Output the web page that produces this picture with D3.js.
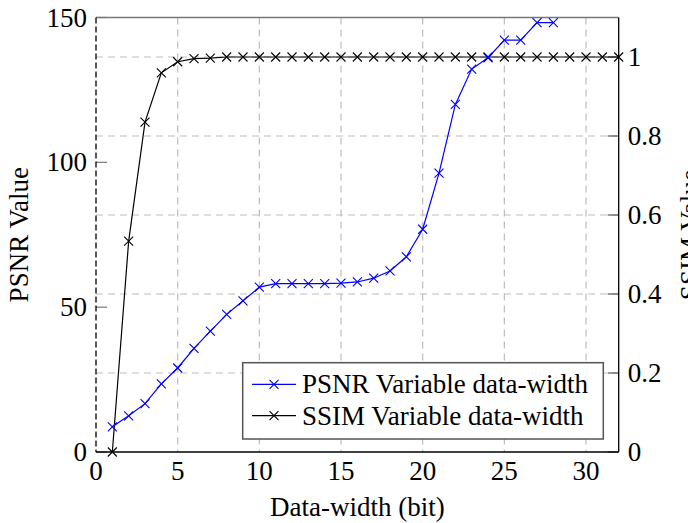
<!DOCTYPE html>
<html>
<head>
<meta charset="utf-8">
<script src="https://cdn.jsdelivr.net/npm/d3@7/dist/d3.min.js"></script>
<style>
  body { margin: 0; background: #fff; }
  svg text { font-family: "Liberation Serif", "DejaVu Serif", serif; fill: #000; }
</style>
</head>
<body>
<svg width="688" height="523"></svg>
<script>
// data-width in bits
var widthBits = d3.range(1, 33);
var psnrBits = d3.range(1, 29);
var psnrValues = [8.7, 12.5, 16.7, 23.5, 29.0, 35.8, 41.7, 47.5, 52.2, 56.9,
                  58.1, 58.1, 58.1, 58.1, 58.3, 58.7, 60.0, 62.5, 67.4, 76.9,
                  96.3, 120.0, 132.2, 136.1, 142.2, 142.2, 148.2, 148.2];
var ssimValues = [0, 0.534, 0.835, 0.960, 0.988, 0.996, 0.997, 1, 1, 1,
                  1, 1, 1, 1, 1, 1, 1, 1, 1, 1,
                  1, 1, 1, 1, 1, 1, 1, 1, 1, 1, 1, 1];
var xTicks = [0, 5, 10, 15, 20, 25, 30];
var psnrTicks = [0, 50, 100, 150];
var ssimTicks = [0, 0.2, 0.4, 0.6, 0.8, 1];
var legendLabels = ["PSNR Variable data-width", "SSIM Variable data-width"];

var svg = d3.select("svg"),
    plotLeft = 96, plotRight = 618.7, plotTop = 17.5, plotBottom = 452,
    fontSize = 27;

var x = d3.scaleLinear().domain([0, 32]).range([plotLeft, plotRight]);
var yPsnr = d3.scaleLinear().domain([0, 150]).range([plotBottom, plotTop]);
var ySsim = d3.scaleLinear().domain([0, 1.1]).range([plotBottom, plotTop]);

var psnr = psnrBits.map(function(b, i) { return {x: b, y: psnrValues[i]}; });
var ssim = widthBits.map(function(b, i) { return {x: b, y: ssimValues[i]}; });

// grid
svg.append("g").selectAll("line")
  .data(xTicks.filter(function(d) { return d > 0; }))
  .enter().append("line")
  .attr("x1", function(d) { return x(d); })
  .attr("x2", function(d) { return x(d); })
  .attr("y1", plotTop).attr("y2", plotBottom)
  .attr("stroke", "#bdbdbd").attr("stroke-width", 1.2)
  .attr("stroke-dasharray", "7,5");

svg.append("g").selectAll("line")
  .data(ssimTicks.filter(function(d) { return d > 0; }))
  .enter().append("line")
  .attr("x1", plotLeft).attr("x2", plotRight)
  .attr("y1", function(d) { return ySsim(d); })
  .attr("y2", function(d) { return ySsim(d); })
  .attr("stroke", "#bdbdbd").attr("stroke-width", 1.2)
  .attr("stroke-dasharray", "7,5");

// tick marks (inside)
svg.append("g").selectAll("line")
  .data(psnrTicks)
  .enter().append("line")
  .attr("x1", plotLeft).attr("x2", plotLeft + 11)
  .attr("y1", function(d) { return yPsnr(d); })
  .attr("y2", function(d) { return yPsnr(d); })
  .attr("stroke", "#777").attr("stroke-width", 1.2);

svg.append("g").selectAll("line")
  .data(ssimTicks)
  .enter().append("line")
  .attr("x1", plotRight - 11).attr("x2", plotRight)
  .attr("y1", function(d) { return ySsim(d); })
  .attr("y2", function(d) { return ySsim(d); })
  .attr("stroke", "#555").attr("stroke-width", 1.2);

// frame
svg.append("line").attr("x1", plotLeft).attr("x2", plotRight).attr("y1", plotTop).attr("y2", plotTop)
  .attr("stroke", "#777").attr("stroke-width", 1.5);
svg.append("line").attr("x1", plotLeft).attr("x2", plotRight).attr("y1", plotBottom).attr("y2", plotBottom)
  .attr("stroke", "#000").attr("stroke-width", 1.3);
svg.append("line").attr("x1", plotRight).attr("x2", plotRight).attr("y1", plotTop).attr("y2", plotBottom)
  .attr("stroke", "#000").attr("stroke-width", 1.3);
svg.append("line").attr("x1", plotLeft).attr("x2", plotLeft).attr("y1", plotTop).attr("y2", plotBottom)
  .attr("stroke", "#000").attr("stroke-width", 1.3)
  .attr("stroke-dasharray", "6,3");

// tick labels
svg.append("g").selectAll("text")
  .data(xTicks).enter().append("text")
  .attr("x", function(d) { return x(d); })
  .attr("y", plotBottom + 28)
  .attr("text-anchor", "middle")
  .attr("font-size", fontSize)
  .text(function(d) { return d; });

svg.append("g").selectAll("text")
  .data(psnrTicks).enter().append("text")
  .attr("x", plotLeft - 9)
  .attr("y", function(d) { return yPsnr(d) + 9; })
  .attr("text-anchor", "end")
  .attr("font-size", fontSize)
  .text(function(d) { return d; });

svg.append("g").selectAll("text")
  .data(ssimTicks).enter().append("text")
  .attr("x", plotRight + 9)
  .attr("y", function(d) { return ySsim(d) + 9; })
  .attr("text-anchor", "start")
  .attr("font-size", fontSize)
  .text(function(d) { return d; });

// axis titles
svg.append("text")
  .attr("x", (plotLeft + plotRight) / 2)
  .attr("y", 516)
  .attr("text-anchor", "middle")
  .attr("font-size", fontSize)
  .text("Data-width (bit)");

svg.append("text")
  .attr("transform", "translate(28," + ((plotTop + plotBottom) / 2) + ") rotate(-90)")
  .attr("text-anchor", "middle")
  .attr("font-size", fontSize)
  .text("PSNR Value");

svg.append("text")
  .attr("transform", "translate(699," + ((plotTop + plotBottom) / 2) + ") rotate(-90)")
  .attr("text-anchor", "middle")
  .attr("font-size", fontSize)
  .text("SSIM Value");

// series
function cross(g, px, py, color) {
  var s = 4.5;
  g.append("path")
    .attr("d", "M" + (px - s) + "," + (py - s) + "L" + (px + s) + "," + (py + s) +
               "M" + (px - s) + "," + (py + s) + "L" + (px + s) + "," + (py - s))
    .attr("stroke", color).attr("stroke-width", 1.1).attr("fill", "none");
}

function drawSeries(points, yScale, color) {
  var g = svg.append("g");
  g.append("path")
    .datum(points)
    .attr("d", d3.line().x(function(d) { return x(d.x); }).y(function(d) { return yScale(d.y); }))
    .attr("fill", "none").attr("stroke", color).attr("stroke-width", 1.2);
  points.forEach(function(d) { cross(g, x(d.x), yScale(d.y), color); });
}

drawSeries(ssim, ySsim, "#000");
drawSeries(psnr, yPsnr, "#0000ff");

// legend
var lg = svg.append("g");
lg.append("rect")
  .attr("x", 242.7).attr("y", 362.7)
  .attr("width", 360.6).attr("height", 76.3)
  .attr("fill", "#fff").attr("stroke", "#555").attr("stroke-width", 1.5);

[["#0000ff", 384.3], ["#000", 415.7]].forEach(function(e, i) {
  lg.append("line").attr("x1", 252).attr("x2", 296).attr("y1", e[1]).attr("y2", e[1])
    .attr("stroke", e[0]).attr("stroke-width", 1.2);
  cross(lg, 274, e[1], e[0]);
  lg.append("text")
    .attr("x", 302).attr("y", e[1] + 9)
    .attr("font-size", fontSize)
    .text(legendLabels[i]);
});
</script>
</body>
</html>
